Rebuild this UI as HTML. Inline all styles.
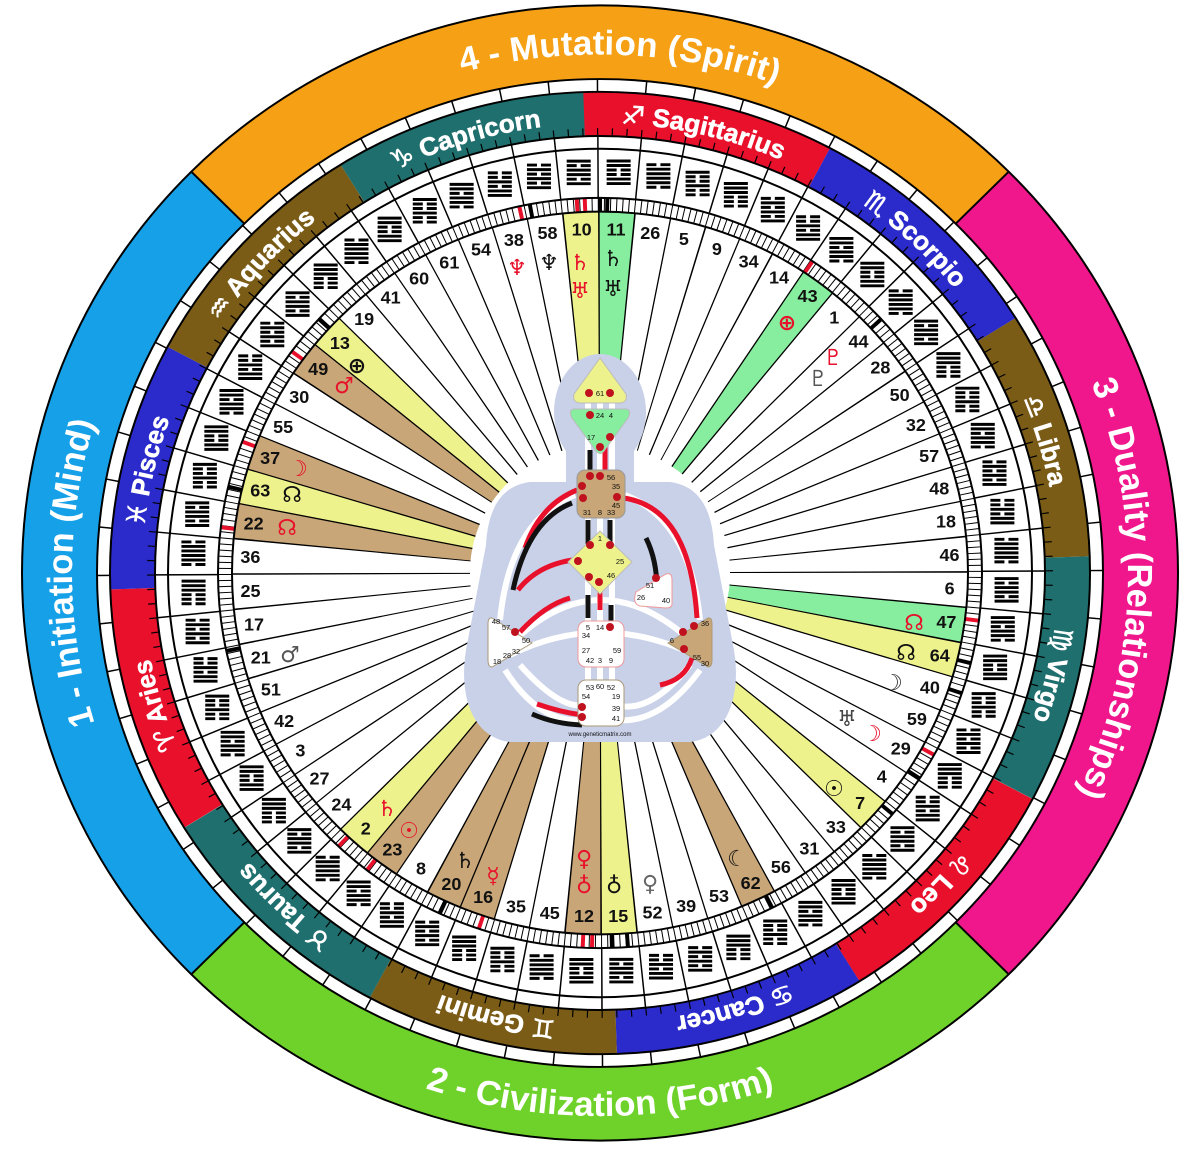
<!DOCTYPE html>
<html><head><meta charset="utf-8"><style>
html,body{margin:0;padding:0;background:#fff;width:1200px;height:1160px;overflow:hidden;position:relative}
svg{display:block;position:absolute;left:0;top:0}
.q{font:bold 35px "Liberation Sans",sans-serif;fill:#fff}
.z{font:bold 26px "Liberation Sans","DejaVu Sans",sans-serif;fill:#fff;stroke:#fff;stroke-width:0.6}
.n{font:bold 18px "Liberation Sans",sans-serif;fill:#111;text-anchor:middle}
.p{font:bold 22px "DejaVu Sans",sans-serif;text-anchor:middle}
.s{font:7.5px "Liberation Sans",sans-serif;fill:#111;text-anchor:middle}
</style></head><body>
<svg width="1200" height="1160" viewBox="0 0 1200 1160" xmlns="http://www.w3.org/2000/svg">
<defs>
<g id="hA"><path d="M-12 -13h24M-12 -8.4h10M2 -8.4h10M-12 -3.8h24M-12 0.8h24M-12 5.4h10M2 5.4h10M-12 10h24" stroke="#000" stroke-width="3"/></g>
<g id="hB"><path d="M-12 -13h24M-12 -8.4h24M-12 -3.8h10M2 -3.8h10M-12 0.8h10M2 0.8h10M-12 5.4h24M-12 10h24" stroke="#000" stroke-width="3"/></g>
<g id="hC"><path d="M-12 -13h10M2 -13h10M-12 -8.4h24M-12 -3.8h24M-12 0.8h24M-12 5.4h24M-12 10h10M2 10h10" stroke="#000" stroke-width="3"/></g>
<g id="hD"><path d="M-12 -13h24M-12 -8.4h10M2 -8.4h10M-12 -3.8h10M2 -3.8h10M-12 0.8h24M-12 5.4h10M2 5.4h10M-12 10h10M2 10h10" stroke="#000" stroke-width="3"/></g>
<g id="hE"><path d="M-12 -13h24M-12 -8.4h24M-12 -3.8h24M-12 0.8h10M2 0.8h10M-12 5.4h10M2 5.4h10M-12 10h10M2 10h10" stroke="#000" stroke-width="3"/></g>
<g id="hF"><path d="M-12 -13h10M2 -13h10M-12 -8.4h24M-12 -3.8h10M2 -3.8h10M-12 0.8h24M-12 5.4h10M2 5.4h10M-12 10h24" stroke="#000" stroke-width="3"/></g>
<g id="hG"><path d="M-12 -13h10M2 -13h10M-12 -8.4h10M2 -8.4h10M-12 -3.8h24M-12 0.8h10M2 0.8h10M-12 5.4h24M-12 10h24" stroke="#000" stroke-width="3"/></g>
<g id="hH"><path d="M-12 -13h24M-12 -8.4h24M-12 -3.8h10M2 -3.8h10M-12 0.8h24M-12 5.4h24M-12 10h10M2 10h10" stroke="#000" stroke-width="3"/></g>
<path id="cwQ" d="M0,528 A528 528 0 1 1 0,-528 A528 528 0 1 1 0,528"/>
<path id="ccwQ" d="M-553,0 A553 553 0 0 0 553,0"/>
<path id="cwZ" d="M0,458 A458 458 0 1 1 0,-458 A458 458 0 1 1 0,458"/>
</defs>
<g transform="translate(600,573) scale(1,0.982)">
<circle r="540.5" fill="none" stroke="#16a0e8" stroke-width="75" stroke-dasharray="849 2547" transform="rotate(135)"/>
<circle r="540.5" fill="none" stroke="#f6a015" stroke-width="75" stroke-dasharray="849 2547" transform="rotate(225)"/>
<circle r="540.5" fill="none" stroke="#f0168c" stroke-width="75" stroke-dasharray="849 2547" transform="rotate(-45)"/>
<circle r="540.5" fill="none" stroke="#6fd22a" stroke-width="75" stroke-dasharray="849 2547" transform="rotate(45)"/>
<path d="M-408.7,-408.7L-355.7,-355.7M408.7,-408.7L355.7,-355.7M408.7,408.7L355.7,355.7M-408.7,408.7L-355.7,355.7" stroke="#000" stroke-width="2"/>
<circle r="467.5" fill="none" stroke="#e8102a" stroke-width="45" stroke-dasharray="244.8 734.4" transform="rotate(-92)"/>
<circle r="467.5" fill="none" stroke="#2b2bcc" stroke-width="45" stroke-dasharray="244.8 734.4" transform="rotate(-62)"/>
<circle r="467.5" fill="none" stroke="#7a5c17" stroke-width="45" stroke-dasharray="244.8 734.4" transform="rotate(-32)"/>
<circle r="467.5" fill="none" stroke="#1f6f6e" stroke-width="45" stroke-dasharray="244.8 734.4" transform="rotate(-2)"/>
<circle r="449" fill="none" stroke="#000" stroke-width="8" stroke-dasharray="1.2 13.494" transform="rotate(-96)"/>
<circle r="413.5" fill="none" stroke="#000" stroke-width="63" stroke-dasharray="1.5 39.095" transform="rotate(-96)"/>
<circle r="496.5" fill="none" stroke="#000" stroke-width="13" stroke-dasharray="1.5 47.24" transform="rotate(-96)"/>
<circle r="375" fill="#fff" stroke="none"/>
<circle r="375" fill="none" stroke="#000" stroke-width="14" stroke-dasharray="1 5.136" transform="rotate(-95.96)"/>
<circle r="368" fill="#fff" stroke="none"/>
<g fill="none" stroke-width="238" stroke-dasharray="24.45 2000">
<circle r="249" stroke="#eef28c" transform="rotate(-95.81)"/>
<circle r="249" stroke="#86ee9e" transform="rotate(-90.19)"/>
<circle r="249" stroke="#86ee9e" transform="rotate(-56.44)"/>
<circle r="249" stroke="#86ee9e" transform="rotate(5.44)"/>
<circle r="249" stroke="#eef28c" transform="rotate(11.06)"/>
<circle r="249" stroke="#eef28c" transform="rotate(39.19)"/>
<circle r="249" stroke="#c8a677" transform="rotate(61.69)"/>
<circle r="249" stroke="#eef28c" transform="rotate(84.19)"/>
<circle r="249" stroke="#c8a677" transform="rotate(89.81)"/>
<circle r="249" stroke="#c8a677" transform="rotate(106.69)"/>
<circle r="249" stroke="#c8a677" transform="rotate(112.31)"/>
<circle r="249" stroke="#c8a677" transform="rotate(123.56)"/>
<circle r="249" stroke="#eef28c" transform="rotate(129.19)"/>
<circle r="249" stroke="#c8a677" transform="rotate(185.44)"/>
<circle r="249" stroke="#eef28c" transform="rotate(191.06)"/>
<circle r="249" stroke="#c8a677" transform="rotate(196.69)"/>
<circle r="249" stroke="#c8a677" transform="rotate(213.56)"/>
<circle r="249" stroke="#eef28c" transform="rotate(219.19)"/>
</g>
<circle r="249" fill="none" stroke="#000" stroke-width="238" stroke-dasharray="1.3 23.145" transform="rotate(-95.96)"/>
<circle r="130" fill="#fff"/>
<g fill="none" stroke-width="14" stroke-dasharray="4 3000">
<circle r="375" stroke="#000" transform="rotate(222.3)"/>
<circle r="375" stroke="#e8102a" transform="rotate(215.9)"/>
<circle r="375" stroke="#e8102a" transform="rotate(200.2)"/>
<circle r="375" stroke="#000" transform="rotate(193)"/>
<circle r="375" stroke="#e8102a" transform="rotate(186.7)"/>
<circle r="375" stroke="#000" transform="rotate(167.7)"/>
<circle r="375" stroke="#e8102a" transform="rotate(7)"/>
<circle r="375" stroke="#000" transform="rotate(13.6)"/>
<circle r="375" stroke="#000" transform="rotate(18.4)"/>
<circle r="375" stroke="#e8102a" transform="rotate(28.7)"/>
<circle r="375" stroke="#000" transform="rotate(32.9)"/>
<circle r="375" stroke="#000" transform="rotate(39.7)"/>
<circle r="375" stroke="#000" transform="rotate(62.9)"/>
<circle r="375" stroke="#000" transform="rotate(87.9)"/>
<circle r="375" stroke="#000" transform="rotate(85.5)"/>
<circle r="375" stroke="#e8102a" transform="rotate(92.3)"/>
<circle r="375" stroke="#e8102a" transform="rotate(90.9)"/>
<circle r="375" stroke="#e8102a" transform="rotate(108.2)"/>
<circle r="375" stroke="#000" transform="rotate(114.5)"/>
<circle r="375" stroke="#e8102a" transform="rotate(127.3)"/>
<circle r="375" stroke="#e8102a" transform="rotate(132.9)"/>
<circle r="375" stroke="#e8102a" transform="rotate(-102.5)"/>
<circle r="375" stroke="#000" transform="rotate(-100.9)"/>
<circle r="375" stroke="#e8102a" transform="rotate(-93.8)"/>
<circle r="375" stroke="#e8102a" transform="rotate(-92.6)"/>
<circle r="375" stroke="#000" transform="rotate(-90.3)"/>
<circle r="375" stroke="#000" transform="rotate(-89.2)"/>
<circle r="375" stroke="#e8102a" transform="rotate(-56.5)"/>
<circle r="375" stroke="#000" transform="rotate(-42.9)"/>
</g>
<g fill="none" stroke="#000" stroke-width="2">
<circle r="578"/><circle r="503"/><circle r="490"/><circle r="445"/><circle r="432"/><circle r="382"/><circle r="368"/>
</g>
<use href="#hA" transform="rotate(-93) translate(407,0) rotate(93)"/>
<use href="#hB" transform="rotate(-87.375) translate(407,0) rotate(87.375)"/>
<use href="#hC" transform="rotate(-81.75) translate(407,0) rotate(81.75)"/>
<use href="#hD" transform="rotate(-76.125) translate(407,0) rotate(76.125)"/>
<use href="#hE" transform="rotate(-70.5) translate(407,0) rotate(70.5)"/>
<use href="#hF" transform="rotate(-64.875) translate(407,0) rotate(64.875)"/>
<use href="#hG" transform="rotate(-59.25) translate(407,0) rotate(59.25)"/>
<use href="#hH" transform="rotate(-53.625) translate(407,0) rotate(53.625)"/>
<use href="#hB" transform="rotate(-48) translate(407,0) rotate(48)"/>
<use href="#hC" transform="rotate(-42.375) translate(407,0) rotate(42.375)"/>
<use href="#hA" transform="rotate(-36.75) translate(407,0) rotate(36.75)"/>
<use href="#hE" transform="rotate(-31.125) translate(407,0) rotate(31.125)"/>
<use href="#hD" transform="rotate(-25.5) translate(407,0) rotate(25.5)"/>
<use href="#hH" transform="rotate(-19.875) translate(407,0) rotate(19.875)"/>
<use href="#hF" transform="rotate(-14.25) translate(407,0) rotate(14.25)"/>
<use href="#hG" transform="rotate(-8.625) translate(407,0) rotate(8.625)"/>
<use href="#hC" transform="rotate(-3) translate(407,0) rotate(3)"/>
<use href="#hA" transform="rotate(2.625) translate(407,0) rotate(-2.625)"/>
<use href="#hH" transform="rotate(8.25) translate(407,0) rotate(-8.25)"/>
<use href="#hB" transform="rotate(13.875) translate(407,0) rotate(-13.875)"/>
<use href="#hD" transform="rotate(19.5) translate(407,0) rotate(-19.5)"/>
<use href="#hF" transform="rotate(25.125) translate(407,0) rotate(-25.125)"/>
<use href="#hE" transform="rotate(30.75) translate(407,0) rotate(-30.75)"/>
<use href="#hG" transform="rotate(36.375) translate(407,0) rotate(-36.375)"/>
<use href="#hA" transform="rotate(42) translate(407,0) rotate(-42)"/>
<use href="#hC" transform="rotate(47.625) translate(407,0) rotate(-47.625)"/>
<use href="#hB" transform="rotate(53.25) translate(407,0) rotate(-53.25)"/>
<use href="#hH" transform="rotate(58.875) translate(407,0) rotate(-58.875)"/>
<use href="#hD" transform="rotate(64.5) translate(407,0) rotate(-64.5)"/>
<use href="#hE" transform="rotate(70.125) translate(407,0) rotate(-70.125)"/>
<use href="#hF" transform="rotate(75.75) translate(407,0) rotate(-75.75)"/>
<use href="#hG" transform="rotate(81.375) translate(407,0) rotate(-81.375)"/>
<use href="#hA" transform="rotate(87) translate(407,0) rotate(-87)"/>
<use href="#hB" transform="rotate(92.625) translate(407,0) rotate(-92.625)"/>
<use href="#hC" transform="rotate(98.25) translate(407,0) rotate(-98.25)"/>
<use href="#hD" transform="rotate(103.875) translate(407,0) rotate(-103.875)"/>
<use href="#hE" transform="rotate(109.5) translate(407,0) rotate(-109.5)"/>
<use href="#hF" transform="rotate(115.125) translate(407,0) rotate(-115.125)"/>
<use href="#hG" transform="rotate(120.75) translate(407,0) rotate(-120.75)"/>
<use href="#hH" transform="rotate(126.375) translate(407,0) rotate(-126.375)"/>
<use href="#hC" transform="rotate(132) translate(407,0) rotate(-132)"/>
<use href="#hA" transform="rotate(137.625) translate(407,0) rotate(-137.625)"/>
<use href="#hE" transform="rotate(143.25) translate(407,0) rotate(-143.25)"/>
<use href="#hB" transform="rotate(148.875) translate(407,0) rotate(-148.875)"/>
<use href="#hH" transform="rotate(154.5) translate(407,0) rotate(-154.5)"/>
<use href="#hD" transform="rotate(160.125) translate(407,0) rotate(-160.125)"/>
<use href="#hG" transform="rotate(165.75) translate(407,0) rotate(-165.75)"/>
<use href="#hF" transform="rotate(171.375) translate(407,0) rotate(-171.375)"/>
<use href="#hE" transform="rotate(177) translate(407,0) rotate(-177)"/>
<use href="#hC" transform="rotate(182.625) translate(407,0) rotate(-182.625)"/>
<use href="#hA" transform="rotate(188.25) translate(407,0) rotate(-188.25)"/>
<use href="#hD" transform="rotate(193.875) translate(407,0) rotate(-193.875)"/>
<use href="#hB" transform="rotate(199.5) translate(407,0) rotate(-199.5)"/>
<use href="#hH" transform="rotate(205.125) translate(407,0) rotate(-205.125)"/>
<use href="#hG" transform="rotate(210.75) translate(407,0) rotate(-210.75)"/>
<use href="#hF" transform="rotate(216.375) translate(407,0) rotate(-216.375)"/>
<use href="#hA" transform="rotate(222) translate(407,0) rotate(-222)"/>
<use href="#hE" transform="rotate(227.625) translate(407,0) rotate(-227.625)"/>
<use href="#hC" transform="rotate(233.25) translate(407,0) rotate(-233.25)"/>
<use href="#hB" transform="rotate(238.875) translate(407,0) rotate(-238.875)"/>
<use href="#hD" transform="rotate(244.5) translate(407,0) rotate(-244.5)"/>
<use href="#hH" transform="rotate(250.125) translate(407,0) rotate(-250.125)"/>
<use href="#hG" transform="rotate(255.75) translate(407,0) rotate(-255.75)"/>
<use href="#hF" transform="rotate(261.375) translate(407,0) rotate(-261.375)"/>
<g class="n">
<text dy="6" transform="rotate(-93) translate(350,0) rotate(93)">10</text>
<text dy="6" transform="rotate(-87.375) translate(350,0) rotate(87.375)">11</text>
<text dy="6" transform="rotate(-81.75) translate(350,0) rotate(81.75)">26</text>
<text dy="6" transform="rotate(-76.125) translate(350,0) rotate(76.125)">5</text>
<text dy="6" transform="rotate(-70.5) translate(350,0) rotate(70.5)">9</text>
<text dy="6" transform="rotate(-64.875) translate(350,0) rotate(64.875)">34</text>
<text dy="6" transform="rotate(-59.25) translate(350,0) rotate(59.25)">14</text>
<text dy="6" transform="rotate(-53.625) translate(350,0) rotate(53.625)">43</text>
<text dy="6" transform="rotate(-48) translate(350,0) rotate(48)">1</text>
<text dy="6" transform="rotate(-42.375) translate(350,0) rotate(42.375)">44</text>
<text dy="6" transform="rotate(-36.75) translate(350,0) rotate(36.75)">28</text>
<text dy="6" transform="rotate(-31.125) translate(350,0) rotate(31.125)">50</text>
<text dy="6" transform="rotate(-25.5) translate(350,0) rotate(25.5)">32</text>
<text dy="6" transform="rotate(-19.875) translate(350,0) rotate(19.875)">57</text>
<text dy="6" transform="rotate(-14.25) translate(350,0) rotate(14.25)">48</text>
<text dy="6" transform="rotate(-8.625) translate(350,0) rotate(8.625)">18</text>
<text dy="6" transform="rotate(-3) translate(350,0) rotate(3)">46</text>
<text dy="6" transform="rotate(2.625) translate(350,0) rotate(-2.625)">6</text>
<text dy="6" transform="rotate(8.25) translate(350,0) rotate(-8.25)">47</text>
<text dy="6" transform="rotate(13.875) translate(350,0) rotate(-13.875)">64</text>
<text dy="6" transform="rotate(19.5) translate(350,0) rotate(-19.5)">40</text>
<text dy="6" transform="rotate(25.125) translate(350,0) rotate(-25.125)">59</text>
<text dy="6" transform="rotate(30.75) translate(350,0) rotate(-30.75)">29</text>
<text dy="6" transform="rotate(36.375) translate(350,0) rotate(-36.375)">4</text>
<text dy="6" transform="rotate(42) translate(350,0) rotate(-42)">7</text>
<text dy="6" transform="rotate(47.625) translate(350,0) rotate(-47.625)">33</text>
<text dy="6" transform="rotate(53.25) translate(350,0) rotate(-53.25)">31</text>
<text dy="6" transform="rotate(58.875) translate(350,0) rotate(-58.875)">56</text>
<text dy="6" transform="rotate(64.5) translate(350,0) rotate(-64.5)">62</text>
<text dy="6" transform="rotate(70.125) translate(350,0) rotate(-70.125)">53</text>
<text dy="6" transform="rotate(75.75) translate(350,0) rotate(-75.75)">39</text>
<text dy="6" transform="rotate(81.375) translate(350,0) rotate(-81.375)">52</text>
<text dy="6" transform="rotate(87) translate(350,0) rotate(-87)">15</text>
<text dy="6" transform="rotate(92.625) translate(350,0) rotate(-92.625)">12</text>
<text dy="6" transform="rotate(98.25) translate(350,0) rotate(-98.25)">45</text>
<text dy="6" transform="rotate(103.875) translate(350,0) rotate(-103.875)">35</text>
<text dy="6" transform="rotate(109.5) translate(350,0) rotate(-109.5)">16</text>
<text dy="6" transform="rotate(115.125) translate(350,0) rotate(-115.125)">20</text>
<text dy="6" transform="rotate(120.75) translate(350,0) rotate(-120.75)">8</text>
<text dy="6" transform="rotate(126.375) translate(350,0) rotate(-126.375)">23</text>
<text dy="6" transform="rotate(132) translate(350,0) rotate(-132)">2</text>
<text dy="6" transform="rotate(137.625) translate(350,0) rotate(-137.625)">24</text>
<text dy="6" transform="rotate(143.25) translate(350,0) rotate(-143.25)">27</text>
<text dy="6" transform="rotate(148.875) translate(350,0) rotate(-148.875)">3</text>
<text dy="6" transform="rotate(154.5) translate(350,0) rotate(-154.5)">42</text>
<text dy="6" transform="rotate(160.125) translate(350,0) rotate(-160.125)">51</text>
<text dy="6" transform="rotate(165.75) translate(350,0) rotate(-165.75)">21</text>
<text dy="6" transform="rotate(171.375) translate(350,0) rotate(-171.375)">17</text>
<text dy="6" transform="rotate(177) translate(350,0) rotate(-177)">25</text>
<text dy="6" transform="rotate(182.625) translate(350,0) rotate(-182.625)">36</text>
<text dy="6" transform="rotate(188.25) translate(350,0) rotate(-188.25)">22</text>
<text dy="6" transform="rotate(193.875) translate(350,0) rotate(-193.875)">63</text>
<text dy="6" transform="rotate(199.5) translate(350,0) rotate(-199.5)">37</text>
<text dy="6" transform="rotate(205.125) translate(350,0) rotate(-205.125)">55</text>
<text dy="6" transform="rotate(210.75) translate(350,0) rotate(-210.75)">30</text>
<text dy="6" transform="rotate(216.375) translate(350,0) rotate(-216.375)">49</text>
<text dy="6" transform="rotate(222) translate(350,0) rotate(-222)">13</text>
<text dy="6" transform="rotate(227.625) translate(350,0) rotate(-227.625)">19</text>
<text dy="6" transform="rotate(233.25) translate(350,0) rotate(-233.25)">41</text>
<text dy="6" transform="rotate(238.875) translate(350,0) rotate(-238.875)">60</text>
<text dy="6" transform="rotate(244.5) translate(350,0) rotate(-244.5)">61</text>
<text dy="6" transform="rotate(250.125) translate(350,0) rotate(-250.125)">54</text>
<text dy="6" transform="rotate(255.75) translate(350,0) rotate(-255.75)">38</text>
<text dy="6" transform="rotate(261.375) translate(350,0) rotate(-261.375)">58</text>
</g>
<text class="q" text-anchor="middle"><textPath href="#cwQ" startOffset="50.6%">4 - Mutation (Spirit)</textPath></text>
<text class="q" text-anchor="middle"><textPath href="#cwQ" startOffset="75.5%">3 - Duality (Relationships)</textPath></text>
<text class="q" text-anchor="middle"><textPath href="#cwQ" startOffset="25%">1 - Initiation (Mind)</textPath></text>
<text class="q" text-anchor="middle"><textPath href="#ccwQ" startOffset="50%">2 - Civilization (Form)</textPath></text>
<g class="z" text-anchor="middle">
<text><textPath href="#cwZ" startOffset="45.3%">♑︎ Capricorn</textPath></text>
<text><textPath href="#cwZ" startOffset="53.6%">♐︎ Sagittarius</textPath></text>
<text><textPath href="#cwZ" startOffset="61.9%">♏︎ Scorpio</textPath></text>
<text><textPath href="#cwZ" startOffset="70.3%">♎︎ Libra</textPath></text>
<text><textPath href="#cwZ" startOffset="78.6%">♍︎ Virgo</textPath></text>
<text><textPath href="#cwZ" startOffset="86.9%">♌︎ Leo</textPath></text>
<text><textPath href="#cwZ" startOffset="95.3%">♋︎ Cancer</textPath></text>
<text><textPath href="#cwZ" startOffset="3.6%">♊︎ Gemini</textPath></text>
<text><textPath href="#cwZ" startOffset="11.9%">♉︎ Taurus</textPath></text>
<text><textPath href="#cwZ" startOffset="20.3%">♈︎ Aries</textPath></text>
<text><textPath href="#cwZ" startOffset="28.6%">♓︎ Pisces</textPath></text>
<text><textPath href="#cwZ" startOffset="36.9%">♒︎ Aquarius</textPath></text>
</g>
</g>
<g class="p">
<text x="517" y="275" fill="#e8102a">♆</text>
<text x="549" y="270" fill="#111">♆</text>
<text x="580" y="270" fill="#e8102a">♄</text>
<text x="580" y="298" fill="#e8102a">♅</text>
<text x="613" y="266" fill="#111">♄</text>
<text x="613" y="296" fill="#111">♅</text>
<text x="787" y="330" fill="#e8102a">⊕</text>
<text x="833" y="365" fill="#e8102a">♇</text>
<text x="818" y="386" fill="#555">♇</text>
<text x="357" y="373" fill="#111">⊕</text>
<text x="344" y="393" fill="#e8102a">♂</text>
<text x="298" y="476" fill="#e8102a">☽</text>
<text x="292" y="502" fill="#111">☊</text>
<text x="287" y="535" fill="#e8102a">☊</text>
<text x="290" y="662" fill="#555">♂</text>
<text x="914" y="630" fill="#e8102a">☊</text>
<text x="906" y="660" fill="#111">☊</text>
<text x="893" y="690" fill="#333">☽</text>
<text x="847" y="726" fill="#444">♅</text>
<text x="872" y="741" fill="#e8102a">☽</text>
<text x="834" y="796" fill="#111">☉</text>
<text x="737" y="866" fill="#111">☾</text>
<text x="387" y="816" fill="#e8102a">♄</text>
<text x="409" y="838" fill="#e8102a">☉</text>
<text x="465" y="868" fill="#111">♄</text>
<text x="493" y="883" fill="#e8102a">☿</text>
<text x="584" y="866" fill="#e8102a">♀</text>
<text x="584" y="893" fill="#e8102a">♁</text>
<text x="614" y="893" fill="#111">♁</text>
<text x="650" y="891" fill="#666">♀</text>
</g>
<g>
<ellipse cx="600" cy="412" rx="46" ry="58" fill="#c9d1e9"/>
<rect x="566" y="440" width="68" height="50" fill="#c9d1e9"/>
<path d="M530,482 L670,482 C700,486 712,510 714,545 L734,650 C742,700 725,738 690,742 L510,742 C475,738 458,700 466,650 L486,545 C488,510 500,486 530,482 Z" fill="#c9d1e9"/>
<g fill="none" stroke="#fff" stroke-width="6">
<path d="M600,400 V700"/><path d="M588,400 V700"/><path d="M612,400 V700"/>
<path d="M515,640 Q600,560 690,640"/>
<path d="M510,655 Q600,610 695,655"/>
<path d="M520,665 Q560,710 585,705"/>
<path d="M505,670 Q540,725 585,720"/>
<path d="M690,665 Q650,715 615,705"/>
<path d="M700,670 Q660,725 615,720"/>
<path d="M500,620 Q510,520 575,495"/>
<path d="M700,620 Q690,520 625,495"/>
</g>
<g fill="none" stroke-width="5">
<path d="M577,490 Q540,505 525,548" stroke="#e8102a"/>
<path d="M572,503 Q528,520 513,590" stroke="#111"/>
<path d="M582,559 Q540,562 518,590" stroke="#e8102a"/>
<path d="M624,498 Q690,508 697,618" stroke="#e8102a"/>
<path d="M646,538 Q657,560 657,590" stroke="#111"/>
<path d="M520,632 Q545,605 570,598" stroke="#e8102a"/>
<path d="M692,658 Q685,680 660,685" stroke="#e8102a"/>
<path d="M537,704 Q560,712 582,715" stroke="#e8102a"/>
<path d="M532,714 Q555,724 582,725" stroke="#111"/>
<path d="M590,450 V470" stroke="#111"/><path d="M605,438 V470" stroke="#e8102a"/>
<path d="M588,520 V545" stroke="#111"/><path d="M610,520 V545" stroke="#111"/>
<path d="M600,590 V610" stroke="#e8102a"/><path d="M588,595 V618" stroke="#111"/><path d="M611,605 V622" stroke="#111"/>
</g>
<path d="M600,358 L626,394 Q628,403 619,403 L581,403 Q572,403 574,394 Z" fill="#eef28c" stroke="#bbb"/>
<path d="M574,409 L626,409 Q632,410 628,418 L604,451 Q600,456 596,451 L572,418 Q568,410 574,409 Z" fill="#86ee9e" stroke="#bbb"/>
<rect x="577" y="470" width="48" height="48" rx="8" fill="#c8a677" stroke="#999"/>
<path d="M600,531 L632,562 L600,594 L568,562 Z" fill="#eef28c" stroke="#bbb"/>
<path d="M636,592 L666,574 Q672,572 672,580 L672,604 Q672,608 666,608 L640,606 Q632,604 636,592 Z" fill="#fff" stroke="#e99"/>
<rect x="578" y="621" width="46" height="46" rx="8" fill="#fff" stroke="#e99"/>
<rect x="578" y="680" width="46" height="46" rx="8" fill="#fff" stroke="#a97"/>
<path d="M492,618 L532,643 L492,667 Q488,667 488,660 L488,624 Q488,617 492,618 Z" fill="#fff" stroke="#a97"/>
<path d="M708,618 L668,643 L708,667 Q712,667 712,660 L712,624 Q712,617 708,618 Z" fill="#c8a677" stroke="#a97"/>
<g fill="#c0121e">
<circle cx="589" cy="393" r="4"/><circle cx="610" cy="393" r="4"/><circle cx="590" cy="415" r="4"/><circle cx="610" cy="437" r="4"/><circle cx="600" cy="447" r="4"/>
<circle cx="590" cy="476" r="4"/><circle cx="600" cy="476" r="4"/><circle cx="582" cy="486" r="4"/><circle cx="583" cy="498" r="4"/><circle cx="617" cy="497" r="4"/>
<circle cx="590" cy="545" r="4"/><circle cx="610" cy="545" r="4"/><circle cx="578" cy="561" r="4"/><circle cx="589" cy="577" r="4"/><circle cx="599" cy="582" r="4"/>
<circle cx="656" cy="578" r="4"/><circle cx="610" cy="627" r="4"/><circle cx="515" cy="632" r="4"/><circle cx="683" cy="632" r="4"/><circle cx="694" cy="626" r="4"/><circle cx="684" cy="649" r="4"/>
<circle cx="582" cy="707" r="4"/><circle cx="582" cy="717" r="4"/>
</g>
<g class="s">
<text x="600" y="396">61</text><text x="600" y="418">24</text><text x="611" y="418">4</text><text x="591" y="440">17</text>
<text x="611" y="480">56</text><text x="616" y="489">35</text><text x="616" y="508">45</text><text x="587" y="515">31</text><text x="600" y="515">8</text><text x="611" y="515">33</text>
<text x="600" y="541">1</text><text x="620" y="564">25</text><text x="611" y="578">46</text>
<text x="650" y="588">51</text><text x="641" y="600">26</text><text x="666" y="603">40</text>
<text x="588" y="630">5</text><text x="600" y="630">14</text><text x="586" y="638">34</text><text x="586" y="653">27</text><text x="617" y="653">59</text><text x="590" y="663">42</text><text x="600" y="663">3</text><text x="611" y="663">9</text>
<text x="590" y="690">53</text><text x="600" y="689">60</text><text x="611" y="690">52</text><text x="586" y="699">54</text><text x="616" y="699">19</text><text x="616" y="711">39</text><text x="616" y="721">41</text>
<text x="496" y="624">48</text><text x="506" y="630">57</text><text x="526" y="643">50</text><text x="516" y="654">32</text><text x="507" y="658">28</text><text x="497" y="664">18</text>
<text x="705" y="626">36</text><text x="672" y="643">6</text><text x="697" y="660">55</text><text x="705" y="666">30</text>
<text x="600" y="736" style="font-size:6px">www.geneticmatrix.com</text>
</g>
</g>
</svg>
</body></html>
